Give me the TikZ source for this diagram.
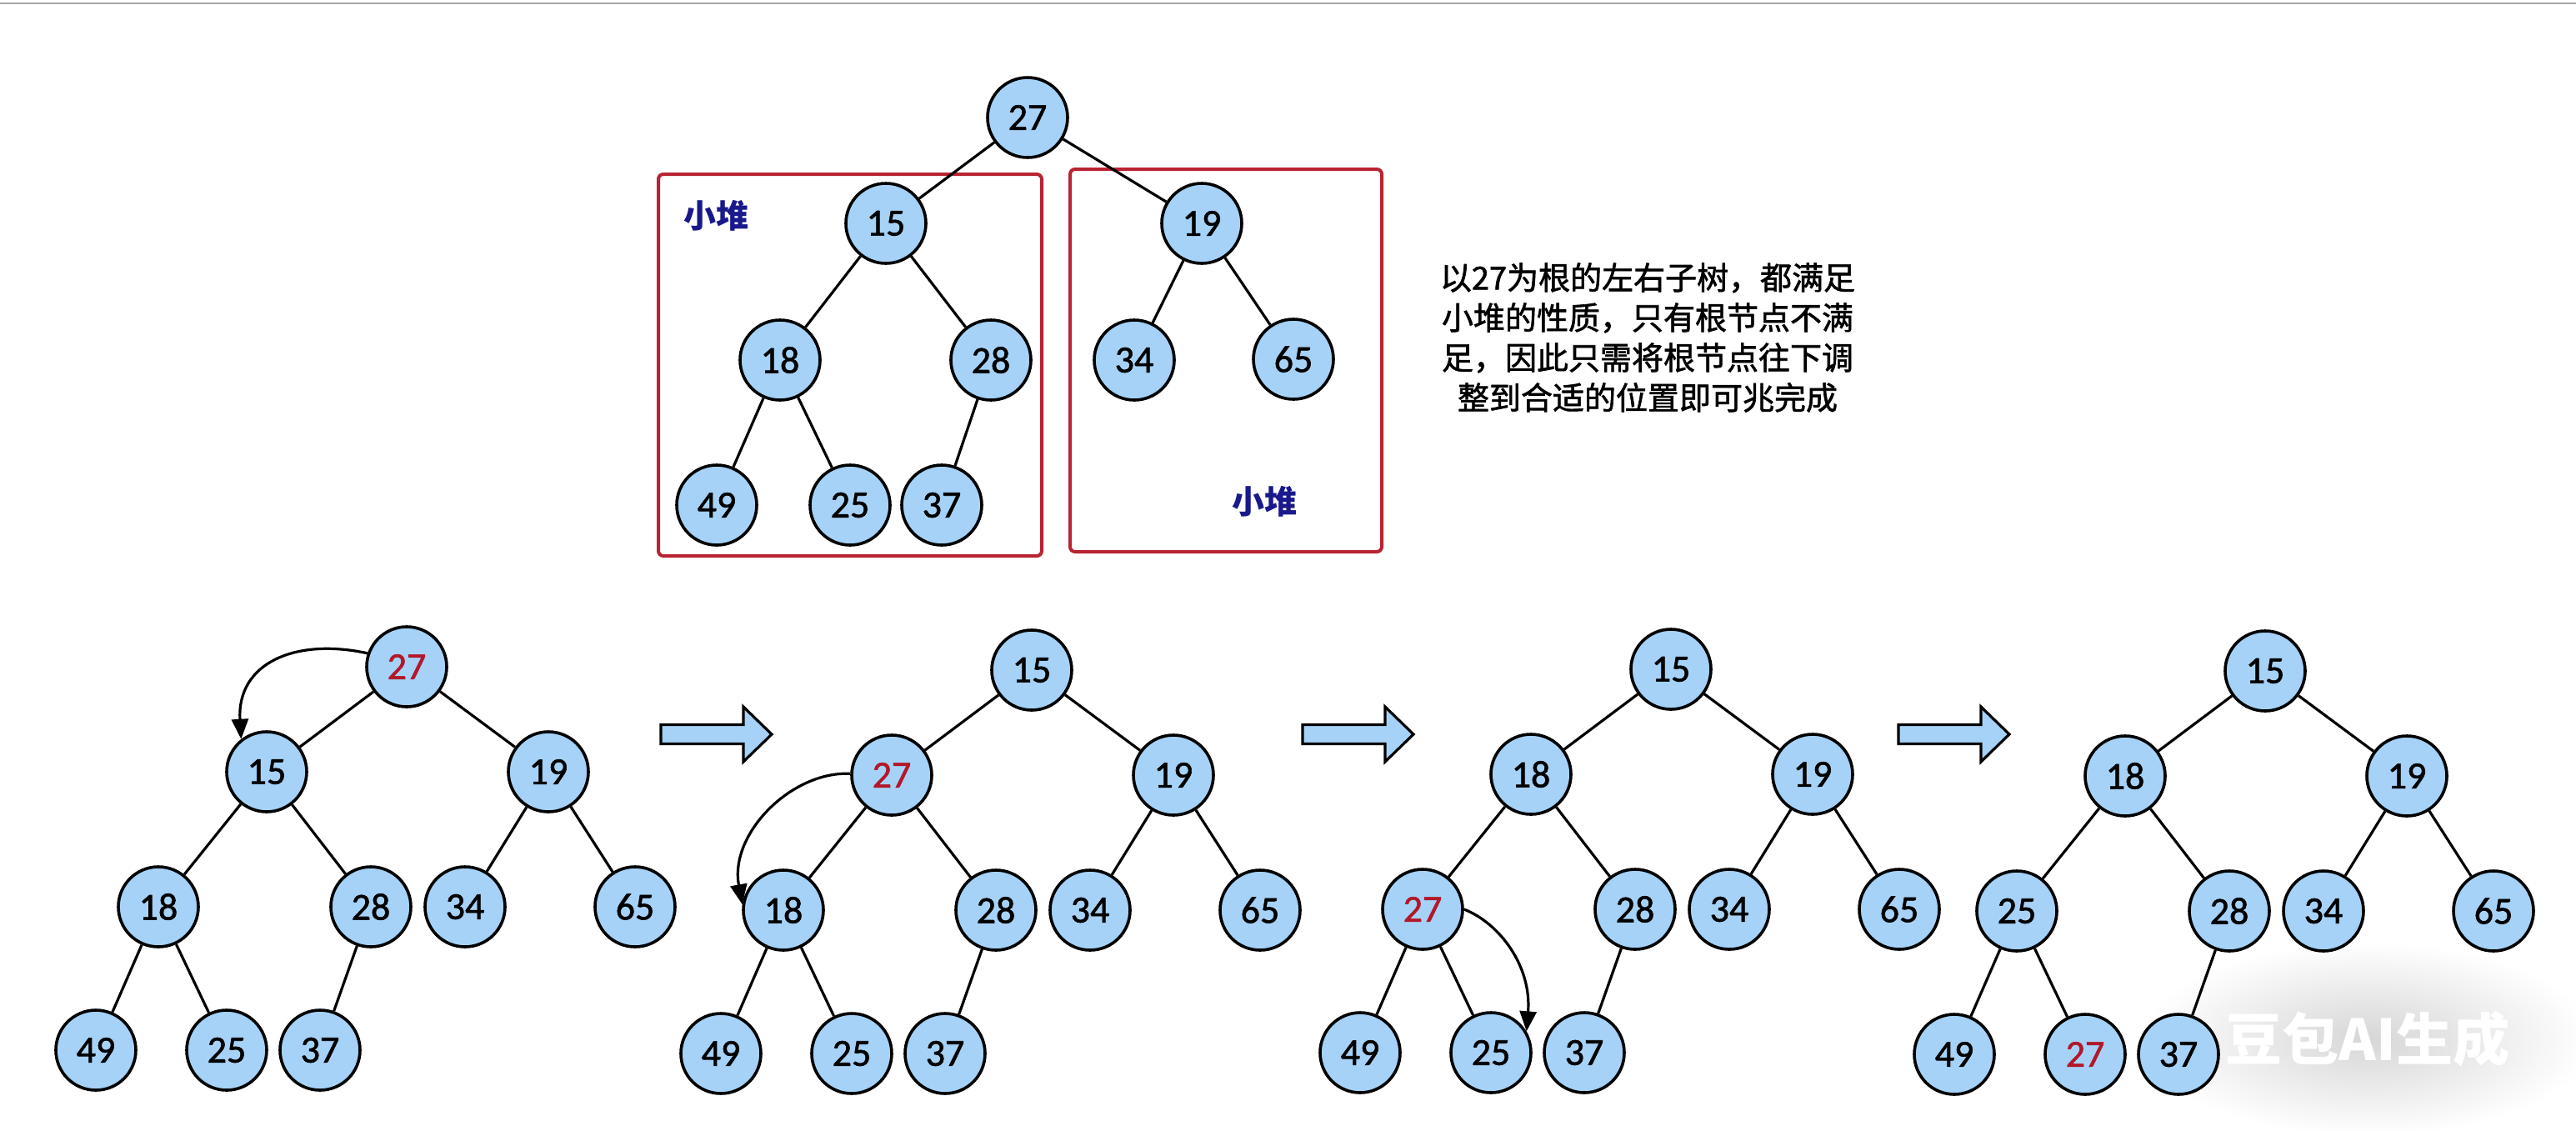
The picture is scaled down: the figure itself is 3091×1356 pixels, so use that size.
\documentclass[tikz,border=0pt]{standalone}
\usepackage{fontspec}
\setmainfont{Carlito}
\newfontfamily\numfont[FakeBold=1.3]{Carlito}
\newfontfamily\cjk{Noto Sans CJK SC}
\newfontfamily\cjktext[FakeBold=1.6]{Noto Sans CJK SC}
\usetikzlibrary{arrows.meta}
\definecolor{nodefill}{RGB}{166,210,248}
\definecolor{numred}{RGB}{178,24,42}
\definecolor{boxred}{RGB}{185,35,50}
\definecolor{navy}{RGB}{25,25,140}
\newcommand\treeedges[1]{%
  \draw[edge] (#1r)--(#1L) (#1r)--(#1R) (#1L)--(#1LL) (#1L)--(#1LR)
    (#1R)--(#1RL) (#1R)--(#1RR) (#1LL)--(#1LLL) (#1LL)--(#1LLR) (#1LR)--(#1LRL);}
\newcommand\rd[1]{\textcolor{numred}{#1}}
\begin{document}
\begin{tikzpicture}[x=0.5pt,y=-0.5pt,
  nd/.style={circle, draw=black, line width=1.8pt, fill=nodefill, minimum size=48pt,
    inner sep=0pt, font=\numfont\fontsize{23pt}{23pt}\selectfont},
  edge/.style={draw=black, line width=1.6pt},
  box/.style={draw=boxred, line width=2pt, rounded corners=3pt},
  heaplabel/.style={text=navy, font=\cjk\bfseries\fontsize{19.5pt}{19.5pt}\selectfont},
  para/.style={align=center, font=\cjktext\fontsize{19pt}{24pt}\selectfont},
  swaparrow/.style={draw=black, line width=1.6pt, -{Triangle[length=12pt,width=10pt]}},
  barrow/.style={draw=black, line width=1.6pt, fill=nodefill, line join=miter},
  blockarr/.pic={\draw[barrow] (-66,-11.5) -- (33,-11.5) -- (33,-33) -- (67,0) -- (33,33) -- (33,11.5) -- (-66,11.5) -- cycle;},
  wm/.style={text=white, font=\cjk\bfseries\fontsize{34pt}{34pt}\selectfont}
]
\useasboundingbox (0,0) rectangle (3091,1356);
\fill[white] (0,0) rectangle (3091,1356);
\draw[black!35, line width=1pt] (0,4) -- (3091,4);

% watermark glow
\shade[inner color=black!16, outer color=white] (2841,1247) ellipse [x radius=135pt, y radius=58pt];

% boxes
\draw[box] (790,209) rectangle (1250,667);
\draw[box] (1284,203) rectangle (1658,662);
\node[heaplabel] (lblA) at (859,259) {小堆};
\node[heaplabel] (lblB) at (1517,602) {小堆};

% description
\node[para] (desc) at (1977,405) {以27为根的左右子树，都满足\\小堆的性质，只有根节点不满\\足，因此只需将根节点往下调\\整到合适的位置即可兆完成};

% top tree
\begin{scope}[shift={(1233,141)}]
\node[nd] (T0r) at (0,0) {27};
\node[nd] (T0L) at (-170,127) {15};
\node[nd] (T0R) at (209,127) {19};
\node[nd] (T0LL) at (-297,291) {18};
\node[nd] (T0LR) at (-44,291) {28};
\node[nd] (T0RL) at (128,291) {34};
\node[nd] (T0RR) at (319,290) {65};
\node[nd] (T0LLL) at (-373,465) {49};
\node[nd] (T0LLR) at (-213,465) {25};
\node[nd] (T0LRL) at (-103,465) {37};
\end{scope}
\treeedges{T0}

% tree 1
\begin{scope}[shift={(488,800)}]
\node[nd] (T1r) at (0,0) {\rd{27}};
\node[nd] (T1L) at (-168,126) {15};
\node[nd] (T1R) at (170,126) {19};
\node[nd] (T1LL) at (-298,288) {18};
\node[nd] (T1LR) at (-43,288) {28};
\node[nd] (T1RL) at (70,288) {34};
\node[nd] (T1RR) at (274,288) {65};
\node[nd] (T1LLL) at (-373,460) {49};
\node[nd] (T1LLR) at (-216,460) {25};
\node[nd] (T1LRL) at (-104,460) {37};
\end{scope}
\treeedges{T1}

% tree 2
\begin{scope}[shift={(1238,804)}]
\node[nd] (T2r) at (0,0) {15};
\node[nd] (T2L) at (-168,126) {\rd{27}};
\node[nd] (T2R) at (170,126) {19};
\node[nd] (T2LL) at (-298,288) {18};
\node[nd] (T2LR) at (-43,288) {28};
\node[nd] (T2RL) at (70,288) {34};
\node[nd] (T2RR) at (274,288) {65};
\node[nd] (T2LLL) at (-373,460) {49};
\node[nd] (T2LLR) at (-216,460) {25};
\node[nd] (T2LRL) at (-104,460) {37};
\end{scope}
\treeedges{T2}

% tree 3
\begin{scope}[shift={(2005,803)}]
\node[nd] (T3r) at (0,0) {15};
\node[nd] (T3L) at (-168,126) {18};
\node[nd] (T3R) at (170,126) {19};
\node[nd] (T3LL) at (-298,288) {\rd{27}};
\node[nd] (T3LR) at (-43,288) {28};
\node[nd] (T3RL) at (70,288) {34};
\node[nd] (T3RR) at (274,288) {65};
\node[nd] (T3LLL) at (-373,460) {49};
\node[nd] (T3LLR) at (-216,460) {25};
\node[nd] (T3LRL) at (-104,460) {37};
\end{scope}
\treeedges{T3}

% tree 4
\begin{scope}[shift={(2718,805)}]
\node[nd] (T4r) at (0,0) {15};
\node[nd] (T4L) at (-168,126) {18};
\node[nd] (T4R) at (170,126) {19};
\node[nd] (T4LL) at (-298,288) {25};
\node[nd] (T4LR) at (-43,288) {28};
\node[nd] (T4RL) at (70,288) {34};
\node[nd] (T4RR) at (274,288) {65};
\node[nd] (T4LLL) at (-373,460) {49};
\node[nd] (T4LLR) at (-216,460) {\rd{27}};
\node[nd] (T4LRL) at (-104,460) {37};
\end{scope}
\treeedges{T4}

% block arrows
\pic (arrA) at (859,881) {blockarr};
\pic (arrB) at (1629,881) {blockarr};
\pic (arrC) at (2344,881) {blockarr};

% swap arrows
\draw[swaparrow] (T1r.161) .. controls (355,765) and (284,795) .. (T1L.128);
\draw[swaparrow] (T2L.178) .. controls (950,925) and (875,1000) .. (T2LL.172);
\draw[swaparrow] (T3LL.0) .. controls (1800,1108) and (1838,1160) .. (T3LLR.31);

% watermark text
\node[wm] (wmark) at (2841,1247) {豆包AI生成};
\end{tikzpicture}
\end{document}
